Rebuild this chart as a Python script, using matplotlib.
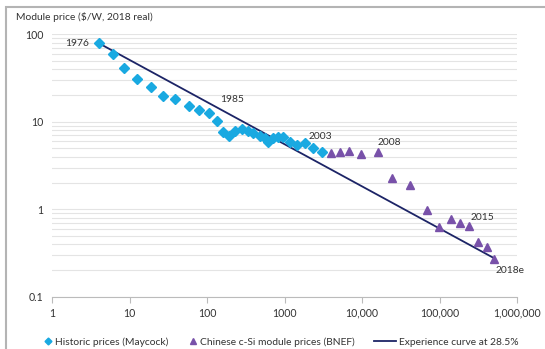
import matplotlib
matplotlib.use('Agg')
import matplotlib.pyplot as plt
from matplotlib.patches import Rectangle
from matplotlib.ticker import LogLocator, NullFormatter, FixedLocator, FixedFormatter

plt.rcParams['font.family'] = ['Lato', 'DejaVu Sans']

# ============ DATA ============
# cumulative capacity (MW) vs module price ($/W, 2018 real)
maycock_x = [4.04, 6.18, 8.57, 12.6, 18.9, 26.8, 38.6, 58.6, 79.6, 106, 133,
             160, 194, 230, 280, 335, 396, 483, 560, 618, 704, 832, 966,
             1178, 1436, 1840, 2354, 3020]
maycock_y = [78.9, 59.5, 41.5, 30.6, 25.1, 19.8, 18.0, 15.1, 13.6, 12.7, 10.3,
             7.69, 6.92, 7.83, 8.26, 7.89, 7.48, 6.85, 6.45, 5.90, 6.45, 6.73, 6.73,
             5.81, 5.41, 5.66, 4.96, 4.54]

bnef_x = [3945, 5200, 6790, 9620, 16230, 24150, 41600, 69600, 99400,
          139600, 184000, 238000, 314000, 410000, 509000]
bnef_y = [4.35, 4.47, 4.66, 4.27, 4.47, 2.25, 1.89, 0.977, 0.63,
          0.77, 0.69, 0.646, 0.424, 0.372, 0.269]

curve_x = [4.04, 490000]
curve_y = [78.9, 0.28]

year_labels = ['1976', '1985', '2003', '2008', '2015', '2018e']
year_x = [3.0, 147, 2070, 16100, 255000, 536000]
year_y = [79, 18.2, 6.86, 5.86, 0.81, 0.20]

xtick_vals = [1, 10, 100, 1000, 1e4, 1e5, 1e6]
xtick_labels = ['1', '10', '100', '1000', '10,000', '100,000', '1,000,000']
ytick_vals = [0.1, 1, 10, 100]
ytick_labels = ['0.1', '1', '10', '100']

# ============ PLOTTING ============
CYAN = '#19a9e1'
PURPLE = '#7851a9'
NAVY = '#1c2466'
TEXT = '#333333'
FS = 7.4

fig = plt.figure(figsize=(5.45, 3.49), dpi=100)
fig.patches.append(Rectangle((6 / 545, -0.1), 1.2, 1 - 7 / 349 + 0.1,
                             transform=fig.transFigure, fill=False,
                             edgecolor='#b4b4b4', linewidth=1.5))

ax = fig.add_axes([52 / 545, 1 - 296.7 / 349, 465 / 545, 262.4 / 349])
ax.set_xscale('log')
ax.set_yscale('log')
ax.set_xlim(1, 1e6)
ax.set_ylim(0.1, 100)

ax.yaxis.set_minor_locator(LogLocator(base=10, subs=range(2, 10)))
ax.yaxis.set_minor_formatter(NullFormatter())
ax.grid(True, which='both', axis='y', color='#e4e4e4', linewidth=0.8)
ax.set_axisbelow(True)

line, = ax.plot(curve_x, curve_y, color=NAVY, linewidth=1.3, zorder=2)
dia, = ax.plot(maycock_x, maycock_y, linestyle='none', marker='D',
               markersize=5, color=CYAN, zorder=3)
tri, = ax.plot(bnef_x, bnef_y, linestyle='none', marker='^', markersize=6,
               color=PURPLE, zorder=3)

for lab, x, y in zip(year_labels, year_x, year_y):
    ax.text(x, y, lab, ha='right' if lab == '1976' else 'left', va='center',
            fontsize=FS, color=TEXT)

ax.xaxis.set_major_locator(FixedLocator(xtick_vals))
ax.xaxis.set_major_formatter(FixedFormatter(xtick_labels))
ax.xaxis.set_minor_locator(FixedLocator([]))
ax.yaxis.set_major_locator(FixedLocator(ytick_vals))
ax.yaxis.set_major_formatter(FixedFormatter(ytick_labels))
ax.tick_params(axis='x', which='major', length=4, color='#bbbbbb',
               labelsize=7.6, labelcolor=TEXT, pad=4)
ax.tick_params(axis='y', which='both', length=0, labelsize=7.6,
               labelcolor=TEXT, pad=6)

for s in ['top', 'right', 'left']:
    ax.spines[s].set_visible(False)
ax.spines['bottom'].set_color('#bbbbbb')

fig.text(16 / 545, 1 - 17 / 349, 'Module price ($/W, 2018 real)', fontsize=FS,
         color=TEXT, va='center')

# three separate legend entries along the bottom
legend_items = [
    (dia, 'Historic prices (Maycock)', 45, 0.6),
    (tri, 'Chinese c-Si module prices (BNEF)', 190, 0.6),
    (line, 'Experience curve at 28.5%', 374, 2.1),
]
for h, lab, xpos, hl in legend_items:
    leg = fig.legend([h], [lab], loc='center left',
                     bbox_to_anchor=(xpos / 545, 1 - 342 / 349),
                     frameon=False, fontsize=FS, handlelength=hl,
                     handletextpad=0.35, markerscale=0.7,
                     borderpad=0, borderaxespad=0)
    for t in leg.get_texts():
        t.set_color(TEXT)

fig.savefig('out.png', dpi=100)
